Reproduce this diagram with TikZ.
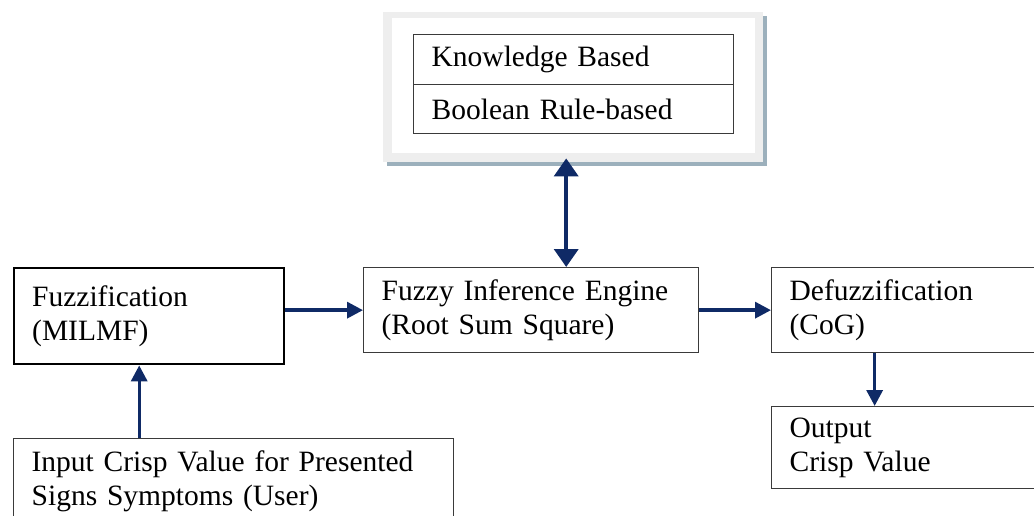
\documentclass[tikz,border=0pt]{standalone}
\usepackage{fontspec}
\setmainfont{Liberation Serif}
\usetikzlibrary{arrows.meta,positioning}
\definecolor{arrowblue}{HTML}{0F2A66}
\definecolor{framegray}{HTML}{EEEEEE}
\definecolor{shadowgray}{HTML}{9CB0BC}
\definecolor{boxline}{HTML}{3A3A3A}
\tikzset{
  txt/.style={font=\fontsize{29.5}{34}\selectfont},
  fbox/.style={draw=boxline, line width=1.3pt, anchor=north west, inner xsep=18pt, inner ysep=0pt,
     align=left, txt},
  thickbox/.style={fbox, draw=black, line width=2.4pt},
  arr/.style={draw=arrowblue, line width=3.4pt, -{Triangle[width=16pt,length=16pt]}},
  dblarr/.style={draw=arrowblue, line width=3.8pt, {Triangle[width=24pt,length=18pt]}-{Triangle[width=24pt,length=18pt]}},
}
\begin{document}
\begin{tikzpicture}[x=1pt,y=-1pt]
\useasboundingbox (0,0) rectangle (1034,515);
% knowledge base frame with shadow
\fill[shadowgray] (387,16) rectangle (767,166);
\node[fill=framegray, anchor=north west, minimum width=380pt, minimum height=150pt, inner sep=0pt] (kbf) at (383,12) {};
\fill[white] (392,18) rectangle (755,153);
\node[fbox, minimum width=320pt, minimum height=50pt, text width=284pt] (kb) at (413,34) {Knowledge Based};
\node[fbox, minimum width=320pt, minimum height=49pt, text width=284pt] (br) at (413,84) {Boolean Rule-based};
% main boxes
\node[thickbox, minimum width=270pt, minimum height=96pt, text width=234pt] (fuzz) at (13,267) {Fuzzification\\(MILMF)};
\node[fbox, minimum width=335pt, minimum height=85pt, text width=299pt] (fie) at (363,267) {Fuzzy Inference Engine\\(Root Sum Square)};
\node[fbox, minimum width=274pt, minimum height=85pt, text width=238pt] (defz) at (771,267) {Defuzzification\\(CoG)};
\node[fbox, minimum width=274pt, minimum height=82pt, text width=238pt] (out) at (771,406) {Output\\Crisp Value};
\node[fbox, minimum width=440pt, minimum height=86pt, text width=404pt, anchor=north west] (inp) at (13,438) {Input Crisp Value for Presented\\Signs Symptoms (User)};
% connectors
\draw[dblarr] ([xshift=-7pt,yshift=4pt]kbf.south) -- ([xshift=-7pt]kbf.south |- fie.north);
\draw[arr] (fuzz.east |- fie.west) -- (fie.west);
\draw[arr] (fie.east) -- (defz.west);
\draw[arr] ([xshift=-34pt]defz.south) -- ([xshift=-34pt]defz.south |- out.north);
\draw[arr] ([xshift=-10pt]fuzz.south |- inp.north) -- ([xshift=-10pt]fuzz.south);
\end{tikzpicture}
\end{document}
